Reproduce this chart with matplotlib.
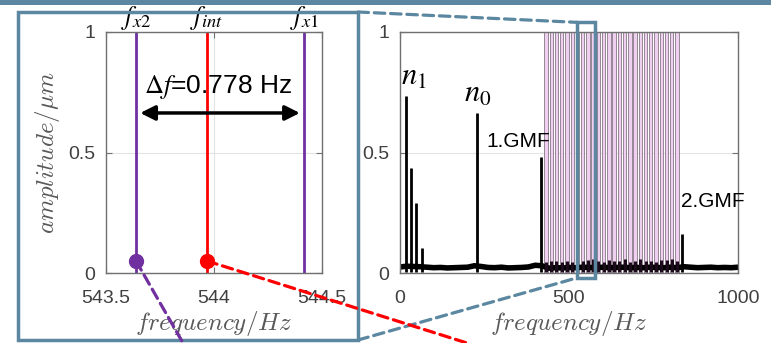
import matplotlib
matplotlib.use('Agg')
import matplotlib.pyplot as plt
from matplotlib.patches import Rectangle, ConnectionPatch

plt.rcParams['font.family'] = ['Liberation Sans', 'DejaVu Sans']
plt.rcParams['mathtext.fontset'] = 'cm'

# zoomed view: sideband pair around the interference line
f_x2 = 543.639
f_int = 543.967
f_x1 = 544.417
marker_amp = 0.05
delta_f_text = '0.778 Hz'

# full spectrum peaks
peak_freq = [17, 32.5, 48, 64, 227, 416, 833]
peak_amp = [0.735, 0.437, 0.292, 0.103, 0.663, 0.48, 0.16]
peak_labels = [r'$n_1$', r'$n_0$', '1.GMF', '2.GMF']

# noise floor
floor_freq = [0, 20, 40, 60, 80, 100, 120, 140, 160, 180, 200, 220, 240, 260,
              280, 300, 320, 340, 360, 380, 400, 420, 440, 460, 480, 500, 520,
              540, 560, 580, 600, 620, 640, 660, 680, 700, 720, 740, 760, 780,
              800, 820, 840, 860, 880, 900, 920, 940, 960, 980, 1000]
floor_amp = [0.025, 0.028, 0.027, 0.026, 0.024, 0.022, 0.023, 0.021, 0.022,
             0.023, 0.024, 0.03, 0.027, 0.023, 0.022, 0.024, 0.021, 0.022,
             0.023, 0.025, 0.032, 0.03, 0.02, 0.022, 0.021, 0.023, 0.022,
             0.024, 0.023, 0.022, 0.024, 0.022, 0.023, 0.024, 0.022, 0.023,
             0.022, 0.024, 0.023, 0.022, 0.024, 0.022, 0.026, 0.024, 0.022,
             0.023, 0.024, 0.022, 0.023, 0.022, 0.024]

# sideband family between 1.GMF and 2.GMF
sb_freq = [432, 447.5, 463, 478.5, 494, 509.5, 525, 540.5, 556, 571.5, 587,
           602.5, 618, 633.5, 649, 664.5, 680, 695.5, 711, 726.5, 742, 757.5,
           773, 788.5, 804, 819.5]
sb_amp = [0.045, 0.05, 0.048, 0.046, 0.05, 0.047, 0.052, 0.048, 0.055, 0.06,
          0.05, 0.046, 0.055, 0.048, 0.05, 0.058, 0.047, 0.05, 0.06, 0.048,
          0.05, 0.047, 0.052, 0.055, 0.06, 0.05]

frame_c = '#5b87a0'
purple = '#7030a0'
red = '#ff0000'
tick_c = '#404040'
label_c = '#595959'

W, H = 771, 343
fig = plt.figure(figsize=(W / 100, H / 100), dpi=100)
ax1 = fig.add_axes([106 / W, 70 / H, 216 / W, 241 / H])
ax2 = fig.add_axes([400 / W, 70 / H, 338 / W, 241 / H])

for ax in (ax1, ax2):
    ax.set_ylim(0, 1)
    ax.set_yticks([0, 0.5, 1])
    ax.set_yticklabels(['0', '0.5', '1'])
    ax.grid(True, color='#e3e3e3', lw=0.8)
    ax.set_axisbelow(True)
    ax.tick_params(direction='in', length=4, width=0.8, colors='#707070',
                   labelcolor=tick_c, labelsize=14, top=True, right=True)
    ax.tick_params(axis='x', pad=12)
    ax.tick_params(axis='y', pad=8)
    for s in ax.spines.values():
        s.set_color('#707070')
        s.set_linewidth(1.0)
    ax.set_xlabel(r'$frequency/Hz$', fontsize=18, color=label_c, labelpad=2)

# ---- left: zoomed view
ax1.set_xlim(543.5, 544.5)
ax1.set_xticks([543.5, 544, 544.5])
ax1.set_xticklabels(['543.5', '544', '544.5'])
ax1.set_ylabel(r'$amplitude/\mu m$', fontsize=18, color=label_c, labelpad=4)

ax1.axvline(f_x2, color=purple, lw=2)
ax1.axvline(f_x1, color=purple, lw=2)
ax1.axvline(f_int, color=red, lw=2)
ax1.plot([f_x2], [marker_amp], 'o', color=purple, ms=10, clip_on=False, zorder=5)
ax1.plot([f_int], [marker_amp], 'o', color=red, ms=10, clip_on=False, zorder=5)

for f, lab in zip([f_x2, f_int, f_x1], [r'$f_{x2}$', r'$f_{int}$', r'$f_{x1}$']):
    ax1.text(f, 1.035, lab, ha='center', va='baseline', fontsize=19,
             math_fontfamily='stix', color='k')

ax1.annotate('', xy=(f_x2, 0.664), xytext=(f_x1, 0.664),
             arrowprops=dict(arrowstyle='<|-|>', color='k', lw=2.5,
                             shrinkA=3, shrinkB=3, mutation_scale=22))
ax1.text((f_x2 + f_x1) / 2 - 0.01, 0.77, r'$\Delta f$=' + delta_f_text,
         ha='center', va='center', fontsize=19, math_fontfamily='stix',
         color='k')

# ---- right: full spectrum
ax2.set_xlim(0, 1000)
ax2.set_xticks([0, 500, 1000])
ax2.set_xticklabels(['0', '500', '1000'])

for f in sb_freq:
    ax2.axvspan(f - 5, f + 5, facecolor='#f0d0f0', edgecolor='#958595', lw=0.7,
                zorder=1)
ax2.plot(floor_freq, floor_amp, color='k', lw=4, zorder=2)
ax2.vlines(sb_freq, 0.005, sb_amp, color='#1a0a1a', lw=2.2, zorder=2)
ax2.vlines(peak_freq, 0.005, peak_amp, color='k', lw=2, zorder=3)

ax2.text(40, 0.75, peak_labels[0], ha='center', va='bottom', fontsize=22,
         math_fontfamily='stix')
ax2.text(231, 0.68, peak_labels[1], ha='center', va='bottom', fontsize=22,
         math_fontfamily='stix')
ax2.text(257, 0.545, peak_labels[2], ha='left', va='center', fontsize=15)
ax2.text(831, 0.295, peak_labels[3], ha='left', va='center', fontsize=15)

# zoom indicator on the right spectrum
ax2.add_patch(Rectangle((524, -0.02), 53, 1.06, fill=False, ec=frame_c, lw=2.5,
                        clip_on=False, zorder=6))

# ---- decoration: top bar, zoom frame, connectors
fig.add_artist(Rectangle((0, 1 - 5 / H), 1, 5 / H, transform=fig.transFigure,
                         fc=frame_c, ec='none'))
fig.add_artist(Rectangle((18 / W, 3 / H), 340 / W, 328 / H, transform=fig.transFigure,
                         fill=False, ec=frame_c, lw=2.5))

dash = (0, (3.3, 1.8))
fig.add_artist(ConnectionPatch(xyA=(358 / W, 331 / H), coordsA=fig.transFigure,
                               xyB=(524, 1.04), coordsB=ax2.transData,
                               color=frame_c, lw=2.3, ls=dash))
fig.add_artist(ConnectionPatch(xyA=(358 / W, 3 / H), coordsA=fig.transFigure,
                               xyB=(524, -0.02), coordsB=ax2.transData,
                               color=frame_c, lw=2.3, ls=dash))
fig.add_artist(ConnectionPatch(xyA=(f_x2, marker_amp), coordsA=ax1.transData,
                               xyB=(183 / W, 0), coordsB=fig.transFigure,
                               color=purple, lw=2.3, ls=dash, zorder=4))
fig.add_artist(ConnectionPatch(xyA=(f_int, marker_amp), coordsA=ax1.transData,
                               xyB=(467 / W, 0), coordsB=fig.transFigure,
                               color=red, lw=2.3, ls=dash, zorder=4))

fig.savefig('out.png', dpi=100)
